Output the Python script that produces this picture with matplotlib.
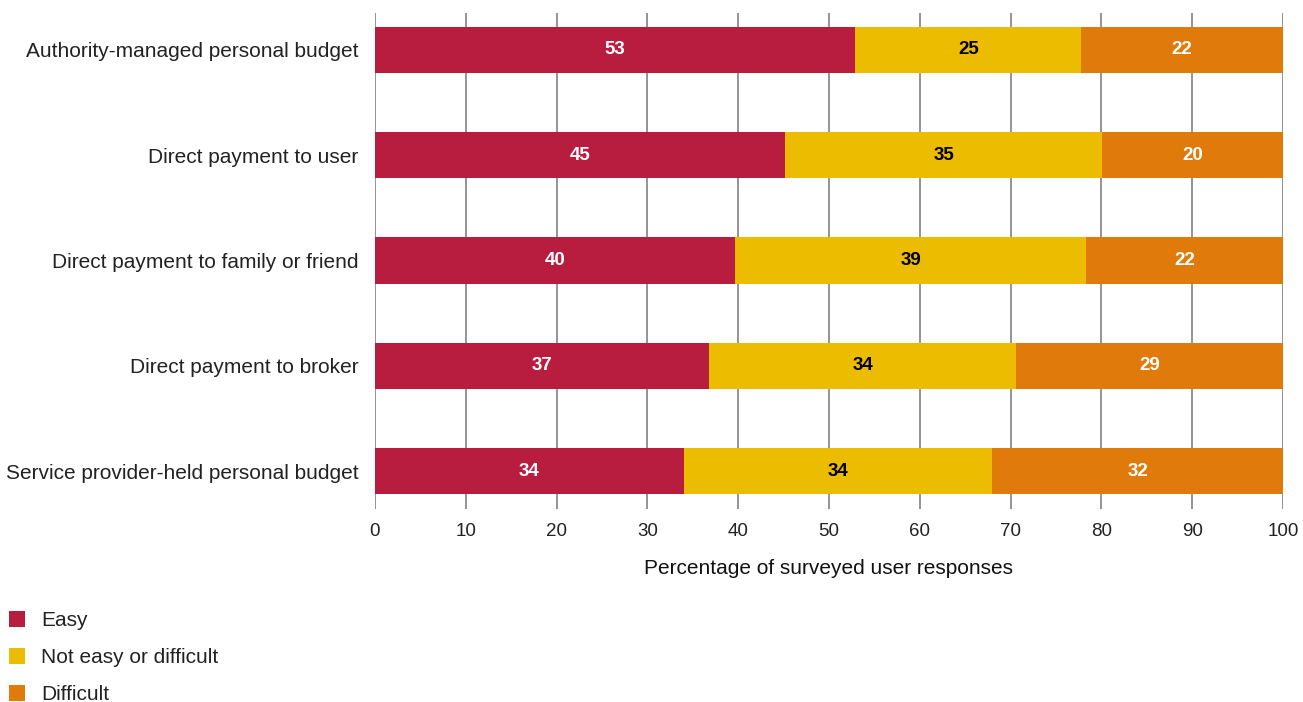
import numpy as np
import matplotlib
matplotlib.use("Agg")
import matplotlib.pyplot as plt
from matplotlib.patches import Patch

plt.rcParams['font.family'] = ['Liberation Sans', 'DejaVu Sans']

# survey results, percent of responses per budget type
budget_types = [
    "Authority-managed personal budget",
    "Direct payment to user",
    "Direct payment to family or friend",
    "Direct payment to broker",
    "Service provider-held personal budget",
]
easy = [52.9, 45.2, 39.7, 36.8, 34.0]
neither = [24.9, 34.9, 38.6, 33.8, 34.0]
difficult = [22.2, 19.9, 21.7, 29.4, 32.0]

series_names = ["Easy", "Not easy or difficult", "Difficult"]
colours = ["#B81D3F", "#EBBC00", "#E07A0A"]
text_colours = ["white", "black", "white"]

fig = plt.figure(figsize=(13.03, 7.02), dpi=100)
ax = fig.add_axes([375/1303, 1 - 509/702, 908/1303, 496/702])

y = np.arange(len(budget_types))
left = np.zeros(len(budget_types))
for vals, col, tcol in zip([easy, neither, difficult], colours, text_colours):
    vals = np.array(vals)
    ax.barh(y, vals, left=left, height=0.44, color=col, zorder=2)
    for yi, l, v in zip(y, left, vals):
        ax.text(l + v / 2, yi, f"{v:.0f}", ha="center", va="center",
                color=tcol, fontsize=13.5, fontweight="bold", zorder=3)
    left += vals

ax.set_xlim(0, 100)
ax.set_ylim(len(budget_types) - 1 + 0.36, -0.35)
ax.set_xticks(np.arange(0, 101, 10))
ax.set_yticks(y)
ax.set_yticklabels(budget_types)
ax.tick_params(axis="both", length=0, colors="#222222")
ax.tick_params(axis="x", pad=10, labelsize=13.5)
ax.tick_params(axis="y", pad=12, labelsize=15)
ax.grid(axis="x", color="#777777", linewidth=1.1, zorder=1)
for s in ax.spines.values():
    s.set_visible(False)
ax.set_xlabel("Percentage of surveyed user responses", fontsize=15,
              color="#111111", labelpad=13.5)

handles = [Patch(facecolor=c, edgecolor="none") for c in colours]
fig.legend(handles, series_names, loc="upper left",
           bbox_to_anchor=(9/1303, 1 - 611/702), frameon=False,
           fontsize=15, handlelength=0.77, handleheight=0.77,
           handletextpad=0.77, labelspacing=0.87, borderpad=0,
           borderaxespad=0, labelcolor="#222222")

fig.savefig("out.png", dpi=100)
